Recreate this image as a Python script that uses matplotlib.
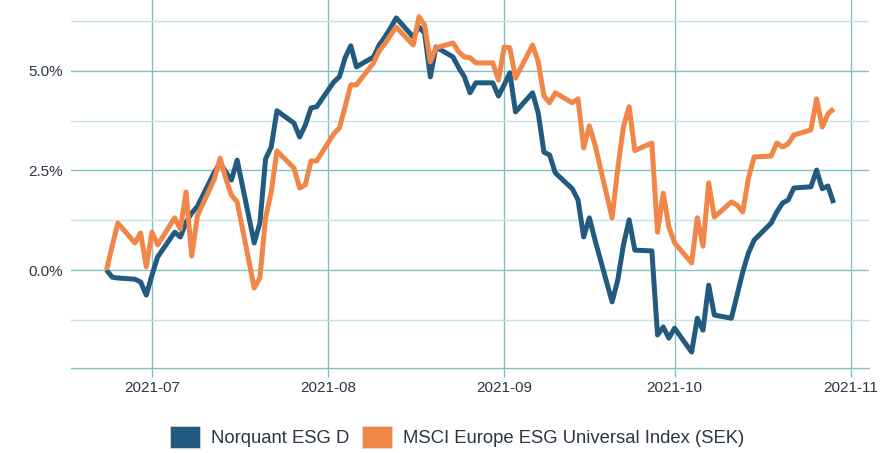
import numpy as np
import pandas as pd
import matplotlib
matplotlib.use("Agg")
import matplotlib.pyplot as plt
import matplotlib.dates as mdates
from matplotlib.patches import Patch
from matplotlib.ticker import FuncFormatter, MultipleLocator

plt.rcParams['font.family'] = ['Liberation Sans', 'DejaVu Sans']

# trading days 2021-06-23 .. 2021-10-29
dates = pd.bdate_range("2021-06-23", "2021-10-29")

# cumulative return, percent
norquant = [
    0.00, -0.18, -0.20, -0.23, -0.30, -0.63, -0.13, 0.33,            # Jun 23 - Jul 2
    0.95, 0.83, 1.20, 1.43, 1.60,                                     # Jul 5 - 9
    2.46, 2.69, 2.46, 2.26, 2.76,                                     # Jul 12 - 16
    0.68, 1.18, 2.79, 3.09, 4.00,                                     # Jul 19 - 23
    3.69, 3.34, 3.64, 4.07, 4.10,                                     # Jul 26 - 30
    4.72, 4.85, 5.33, 5.63, 5.10,                                     # Aug 2 - 6
    5.35, 5.65, 5.85, 6.08, 6.33,                                     # Aug 9 - 13
    5.85, 6.10, 5.95, 4.85, 5.60,                                     # Aug 16 - 20
    5.35, 5.08, 4.85, 4.45, 4.70,                                     # Aug 23 - 27
    4.70, 4.37, 4.65, 4.95, 3.97,                                     # Aug 30 - Sep 3
    4.45, 3.94, 2.96, 2.89, 2.44,                                     # Sep 6 - 10
    2.04, 1.76, 0.83, 1.31, 0.75,                                     # Sep 13 - 17
    -0.80, -0.25, 0.63, 1.26, 0.50,                                   # Sep 20 - 24
    0.48, -1.63, -1.43, -1.71, -1.46,                                 # Sep 27 - Oct 1
    -2.06, -1.21, -1.51, -0.38, -1.13,                                # Oct 4 - 8
    -1.21, -0.63, -0.05, 0.43, 0.75,                                  # Oct 11 - 15
    1.18, 1.46, 1.68, 1.76, 2.06,                                     # Oct 18 - 22
    2.09, 2.51, 2.04, 2.11, 1.68,                                     # Oct 25 - 29
]
msci = [
    0.00, 0.60, 1.18, 0.68, 0.93, 0.08, 0.95, 0.63,
    1.31, 1.03, 1.96, 0.35, 1.36,
    2.29, 2.81, 2.30, 1.88, 1.71,
    -0.45, -0.20, 1.31, 1.96, 2.99,
    2.56, 2.06, 2.14, 2.74, 2.74,
    3.42, 3.57, 4.10, 4.65, 4.65,
    5.20, 5.50, 5.68, 5.90, 6.10,
    5.65, 6.36, 6.15, 5.23, 5.58,
    5.70, 5.48, 5.35, 5.33, 5.20,
    5.20, 4.77, 5.60, 5.58, 4.82,
    5.65, 5.23, 4.37, 4.20, 4.45,
    4.20, 4.30, 3.07, 3.62, 3.14,
    1.31, 2.55, 3.60, 4.10, 3.00,
    3.19, 0.95, 1.93, 1.08, 0.68,
    0.18, 1.31, 0.60, 2.19, 1.33,
    1.71, 1.63, 1.46, 2.30, 2.84,
    2.86, 3.19, 3.09, 3.17, 3.39,
    3.52, 4.30, 3.59, 3.92, 4.05,
]
labels = ["Norquant ESG D", "MSCI Europe ESG Universal Index (SEK)"]
colors = ["#235b80", "#f08748"]

grid_major = "#80c2c2"
grid_minor = "#c4e3e3"
text_color = "#2b3644"

fig = plt.figure(figsize=(8.81, 4.53), dpi=100)
ax = fig.add_axes([0.0806, 0.1876, 0.9054, 0.8124])

for series, c in zip([norquant, msci], colors):
    ax.plot(dates, series, color=c, lw=3.6, solid_joinstyle="round",
            solid_capstyle="butt", zorder=3)

ax.set_xlim(pd.Timestamp("2021-06-16 18:00"), pd.Timestamp("2021-11-04 04:00"))
ax.set_ylim(-2.46, 6.78)

ax.xaxis.set_major_locator(mdates.MonthLocator())
ax.xaxis.set_major_formatter(mdates.DateFormatter("%Y-%m"))
ax.yaxis.set_major_locator(MultipleLocator(2.5))
ax.yaxis.set_minor_locator(MultipleLocator(1.25))
ax.yaxis.set_major_formatter(FuncFormatter(lambda v, p: f"{v:.1f}%"))

ax.grid(axis="y", which="major", color=grid_major, lw=1.0, zorder=0)
ax.grid(axis="y", which="minor", color=grid_minor, lw=1.0, zorder=0)
ax.grid(axis="x", which="major", color=grid_major, lw=1.0, zorder=0)

for s in ["top", "right", "left"]:
    ax.spines[s].set_visible(False)
ax.spines["bottom"].set_color(grid_major)
ax.spines["bottom"].set_linewidth(1.0)

ax.tick_params(axis="y", which="both", length=0, pad=5.5, labelsize=11,
               labelcolor=text_color)
ax.tick_params(axis="x", which="major", length=6.5, width=1.0, color=grid_major,
               pad=2.5, labelsize=11, labelcolor=text_color)

handles = [Patch(facecolor=c, edgecolor="#dddddd", lw=0.5) for c in colors]
fig.legend(handles, labels, loc="center", bbox_to_anchor=(0.519, 0.035),
           ncol=2, frameon=False, fontsize=13.3, handlelength=1.65,
           handleheight=1.5, handletextpad=0.6, columnspacing=0.65,
           labelcolor=text_color)

fig.savefig("out.png", dpi=100, facecolor="white")
